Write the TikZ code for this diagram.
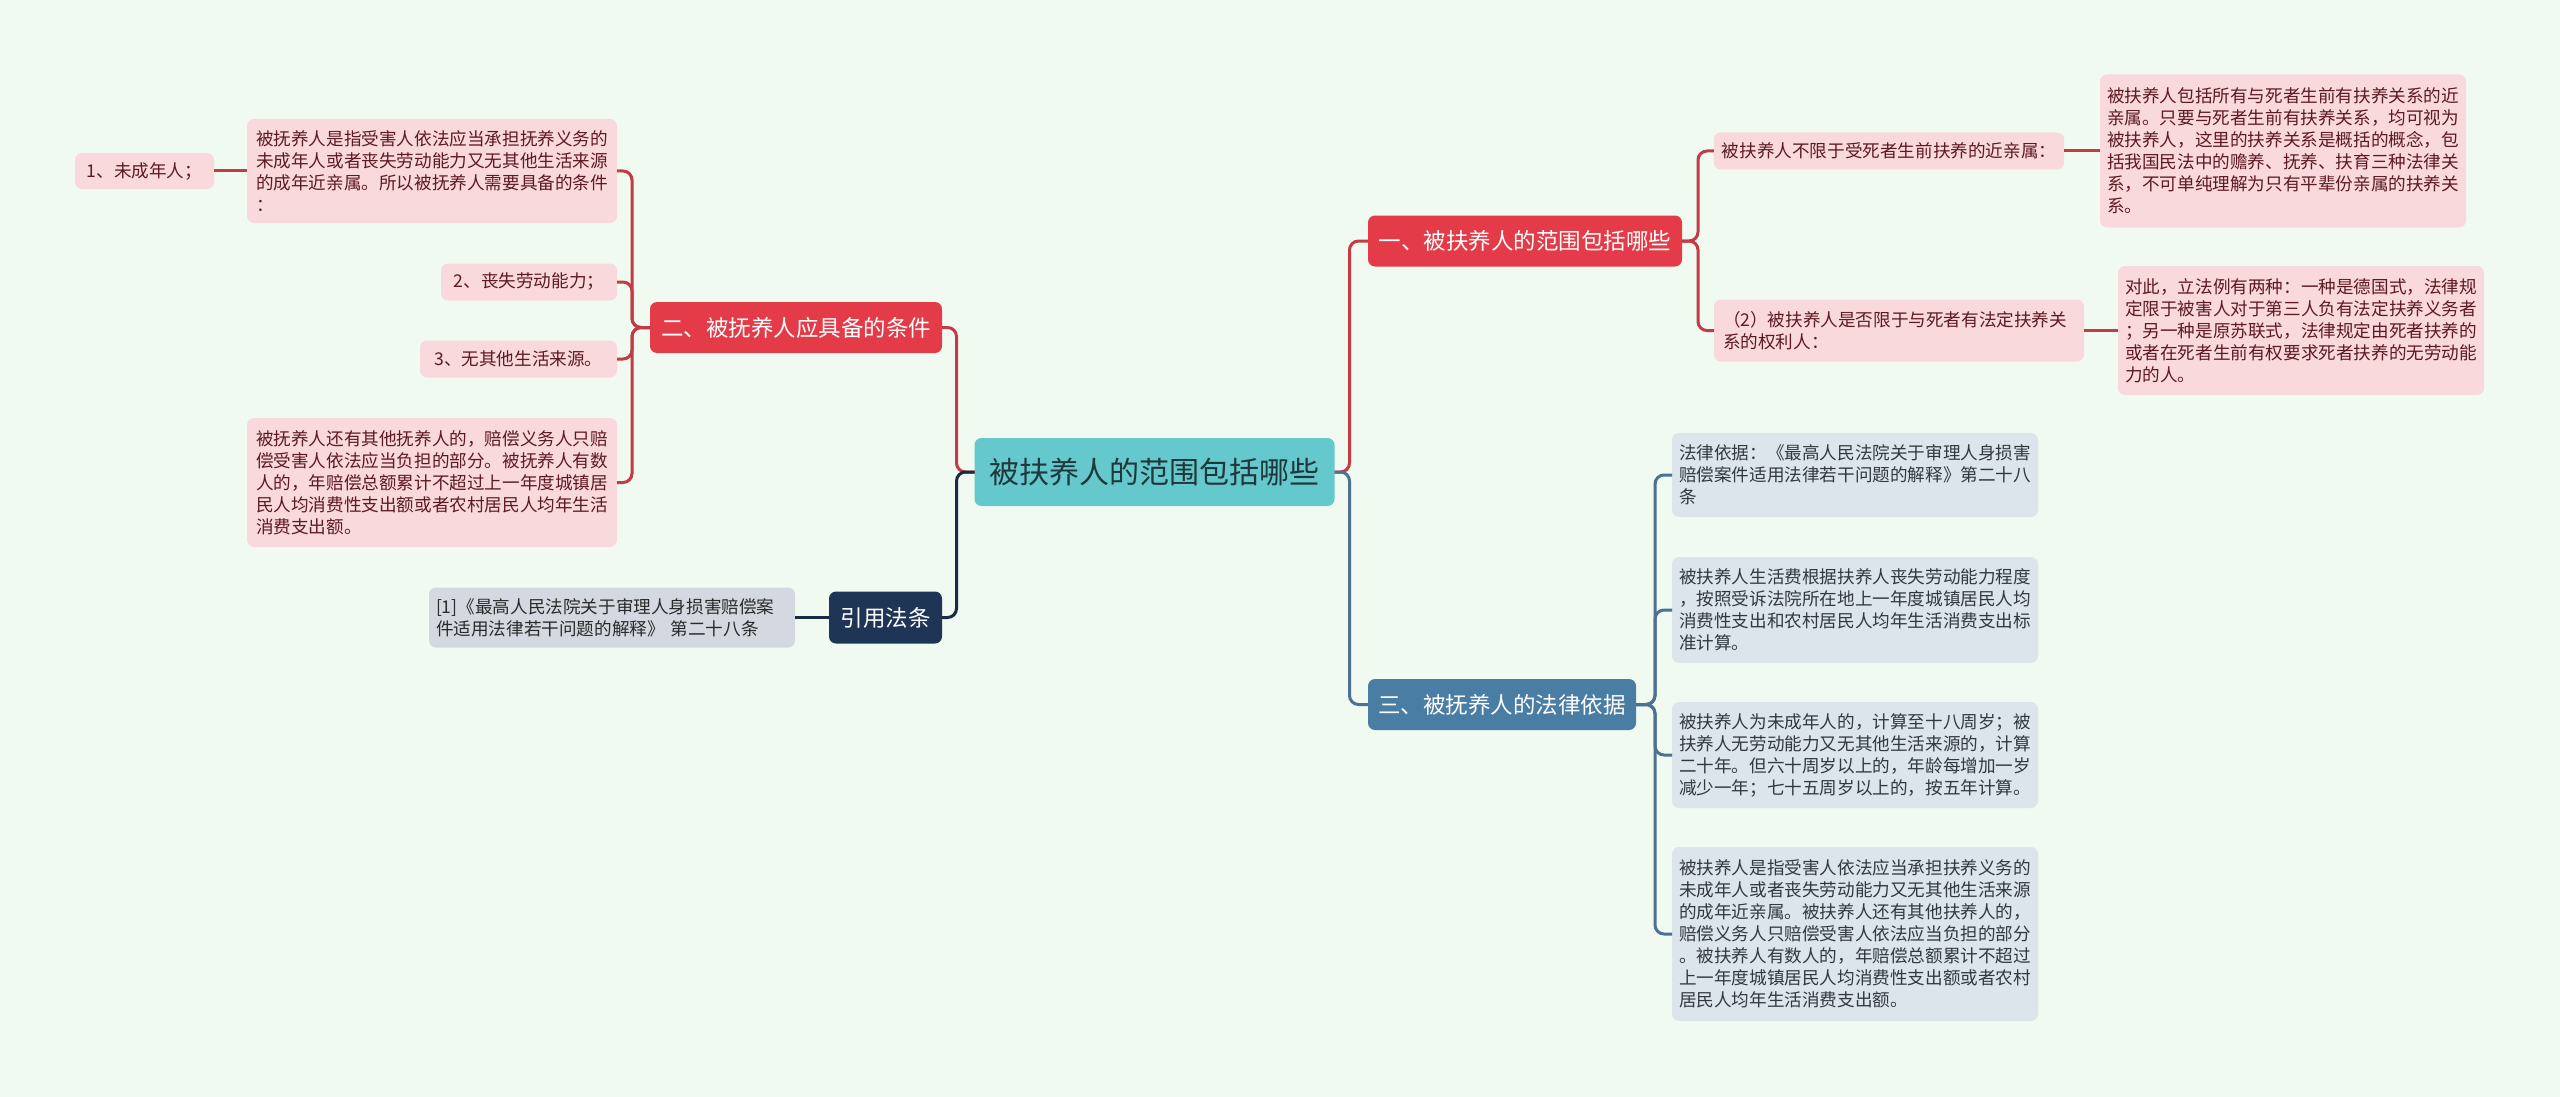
\documentclass[tikz,border=0pt]{standalone}
\usepackage{fontspec}
\setmainfont{Noto Sans CJK SC}
\definecolor{bgc}{HTML}{F0FAF0}
\definecolor{cfill}{HTML}{64C8CC}
\definecolor{ctext}{HTML}{1E383B}
\definecolor{redfill}{HTML}{E33B48}
\definecolor{redline}{HTML}{C33B44}
\definecolor{pinkfill}{HTML}{FAD9DD}
\definecolor{pinktext}{HTML}{5C1A22}
\definecolor{navyfill}{HTML}{1F3556}
\definecolor{navyline}{HTML}{1B2A45}
\definecolor{greyfill}{HTML}{D4D9E1}
\definecolor{greytext}{HTML}{2A2A2A}
\definecolor{bluefill}{HTML}{4A7DA4}
\definecolor{blueline}{HTML}{4C7193}
\definecolor{paleblue}{HTML}{DCE5EC}
\definecolor{bluetext}{HTML}{333840}
\begin{document}
\begin{tikzpicture}[x=1pt,y=-1pt,
  box/.style={rounded corners=7pt, inner xsep=8pt, inner ysep=0pt, outer sep=0pt, anchor=center},
  centre/.style={box, fill=cfill, text=ctext, minimum width=360pt, minimum height=68pt, font=\fontsize{30}{36}\selectfont},
  branch/.style={box, text=white, minimum height=51pt, font=\fontsize{22.5}{27}\selectfont},
  leaftext/.style={font=\fontsize{17.6}{22}\selectfont},
  multi/.style={text width=352pt, align=left, inner xsep=7pt},
  pinkleaf/.style={box, leaftext, fill=pinkfill, text=pinktext},
  greyleaf/.style={box, leaftext, fill=greyfill, text=greytext},
  blueleaf/.style={box, leaftext, fill=paleblue, text=bluetext},
  conn/.style={line width=3pt, rounded corners=9pt}
]
\fill[bgc] (0,0) rectangle (2560,1097);
\useasboundingbox (0,0) rectangle (2560,1097);

% centre and main branches
\node[centre] (c) at (1154.5,472) {被扶养人的范围包括哪些};
\node[branch, fill=redfill, minimum width=314pt] (b1) at (1525,241) {一、被扶养人的范围包括哪些};
\node[branch, fill=redfill, minimum width=292pt] (b2) at (796,327.5) {二、被抚养人应具备的条件};
\node[branch, fill=navyfill, minimum width=113pt, minimum height=52pt] (b3) at (885.5,617.5) {引用法条};
\node[branch, fill=bluefill, minimum width=268pt] (b4) at (1502,704.5) {三、被抚养人的法律依据};

% left branch (二)
\node[pinkleaf, multi, inner xsep=9pt, minimum height=104pt] (L1) at (432,171) {被抚养人是指受害人依法应当承担抚养义务的\\未成年人或者丧失劳动能力又无其他生活来源\\的成年近亲属。所以被抚养人需要具备的条件\\：};
\node[pinkleaf, minimum width=139pt, minimum height=36pt] (L1a) at (144.5,171) {1、未成年人；};
\node[pinkleaf, minimum width=176pt, minimum height=37pt] (L2) at (529,282) {2、丧失劳动能力；};
\node[pinkleaf, minimum width=197pt, minimum height=37pt] (L3) at (518.5,359) {3、无其他生活来源。};
\node[pinkleaf, multi, inner xsep=9pt, minimum height=129pt] (L4) at (432,482.5) {被抚养人还有其他抚养人的，赔偿义务人只赔\\偿受害人依法应当负担的部分。被抚养人有数\\人的，年赔偿总额累计不超过上一年度城镇居\\民人均消费性支出额或者农村居民人均年生活\\消费支出额。};

% citation
\node[greyleaf, multi, minimum height=60pt] (cite) at (612,617.5) {[1]《最高人民法院关于审理人身损害赔偿案\\件适用法律若干问题的解释》 第二十八条};

% right branch (一)
\node[pinkleaf, minimum width=350pt, minimum height=37pt] (R1) at (1889,151) {被扶养人不限于受死者生前扶养的近亲属：};
\node[pinkleaf, multi, minimum height=153pt] (R1a) at (2283,151) {被扶养人包括所有与死者生前有扶养关系的近\\亲属。只要与死者生前有扶养关系，均可视为\\被扶养人，这里的扶养关系是概括的概念，包\\括我国民法中的赡养、抚养、扶育三种法律关\\系，不可单纯理解为只有平辈份亲属的扶养关\\系。};
\node[pinkleaf, multi, inner xsep=9pt, minimum height=62pt] (R2) at (1899,330.5) {（2）被扶养人是否限于与死者有法定扶养关\\系的权利人：};
\node[pinkleaf, multi, minimum height=129pt] (R2a) at (2301,330.5) {对此，立法例有两种：一种是德国式，法律规\\定限于被害人对于第三人负有法定扶养义务者\\；另一种是原苏联式，法律规定由死者扶养的\\或者在死者生前有权要求死者扶养的无劳动能\\力的人。};

% right branch (三)
\node[blueleaf, multi, minimum height=84pt] (B1) at (1855,475) {法律依据：《最高人民法院关于审理人身损害\\赔偿案件适用法律若干问题的解释》第二十八\\条};
\node[blueleaf, multi, minimum height=106pt] (B2) at (1855,610) {被扶养人生活费根据扶养人丧失劳动能力程度\\，按照受诉法院所在地上一年度城镇居民人均\\消费性支出和农村居民人均年生活消费支出标\\准计算。};
\node[blueleaf, multi, minimum height=106pt] (B3) at (1855,755) {被扶养人为未成年人的，计算至十八周岁；被\\扶养人无劳动能力又无其他生活来源的，计算\\二十年。但六十周岁以上的，年龄每增加一岁\\减少一年；七十五周岁以上的，按五年计算。};
\node[blueleaf, multi, minimum height=174pt] (B4) at (1855,934) {被扶养人是指受害人依法应当承担扶养义务的\\未成年人或者丧失劳动能力又无其他生活来源\\的成年近亲属。被扶养人还有其他扶养人的，\\赔偿义务人只赔偿受害人依法应当负担的部分\\。被扶养人有数人的，年赔偿总额累计不超过\\上一年度城镇居民人均消费性支出额或者农村\\居民人均年生活消费支出额。};

% connectors: centre to branches
\draw[conn, redline] (c.west) -- ([xshift=-18pt]c.west) |- (b2.east);
\draw[conn, navyline] (c.west) -- ([xshift=-18pt]c.west) |- (b3.east);
\draw[conn, redline] (c.east) -- ([xshift=15pt]c.east) |- (b1.west);
\draw[conn, blueline] (c.east) -- ([xshift=15pt]c.east) |- (b4.west);

% branch 二
\foreach \n in {L1,L2,L3,L4}
  \draw[conn, redline] (b2.west) -- ([xshift=-18pt]b2.west) |- (\n.east);
\draw[conn, redline] (L1.west) -- (L1a.east);

% citation
\draw[conn, navyline] (b3.west) -- (cite.east);

% branch 一
\foreach \n in {R1,R2}
  \draw[conn, redline] (b1.east) -- ([xshift=16pt]b1.east) |- (\n.west);
\draw[conn, redline] (R1.east) -- (R1a.west);
\draw[conn, redline] (R2.east) -- (R2a.west);

% branch 三
\foreach \n in {B1,B2,B3,B4}
  \draw[conn, blueline] (b4.east) -- ([xshift=19pt]b4.east) |- (\n.west);
\end{tikzpicture}
\end{document}
